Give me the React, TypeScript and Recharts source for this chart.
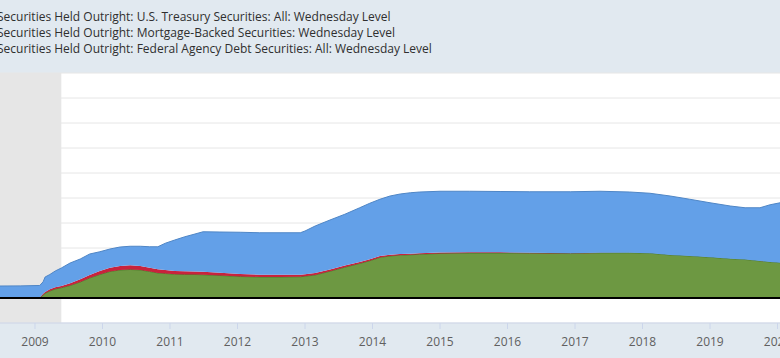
import React from "react";
import { AreaChart, Area, XAxis, YAxis, CartesianGrid, ReferenceArea, ReferenceLine } from "recharts";

// decimal year of each observation
const dates = [
  2008.48, 2008.78, 2009.07, 2009.12, 2009.15, 2009.22, 2009.3, 2009.39, 2009.52, 2009.67,
  2009.81, 2009.96, 2010.11, 2010.26, 2010.41, 2010.56, 2010.7, 2010.82, 2010.93, 2011.07,
  2011.22, 2011.37, 2011.49, 2011.74, 2012.04, 2012.33, 2012.63, 2012.93, 2013.0, 2013.15,
  2013.37, 2013.59, 2013.81, 2013.96, 2014.11, 2014.26, 2014.41, 2014.56, 2014.7, 2015.0,
  2015.44, 2015.89, 2016.33, 2016.93, 2017.37, 2017.81, 2018.11, 2018.41, 2018.7, 2019.0,
  2019.3, 2019.52, 2019.74, 2019.89, 2020.04,
];
// billions of dollars
const treasury = [
  480, 475, 476, 476, 600, 590, 650, 720, 810, 810,
  840, 770, 750, 760, 760, 790, 840, 900, 1070, 1240,
  1380, 1500, 1600, 1630, 1670, 1680, 1680, 1680, 1730, 1880,
  1980, 2050, 2170, 2240, 2270, 2350, 2400, 2440, 2450, 2450,
  2440, 2430, 2440, 2460, 2460, 2430, 2398, 2358, 2268, 2178,
  2108, 2068, 2128, 2288, 2398,
];
const mbs = [
  0, 0, 5, 120, 190, 280, 360, 410, 500, 640,
  800, 940, 1060, 1120, 1140, 1120, 1060, 1000, 980, 950,
  940, 940, 930, 900, 860, 840, 840, 850, 870, 920,
  1070, 1230, 1380, 1490, 1625, 1680, 1715, 1728, 1750, 1782,
  1797, 1800, 1790, 1778, 1804, 1807, 1790, 1720, 1680, 1630,
  1570, 1540, 1480, 1440, 1410,
];
const agency = [
  0, 10, 20, 50, 50, 70, 70, 70, 90, 110,
  120, 140, 150, 160, 170, 160, 150, 150, 140, 130,
  130, 120, 120, 110, 100, 90, 90, 80, 80, 80,
  70, 70, 60, 60, 55, 50, 45, 42, 40, 38,
  33, 30, 20, 12, 6, 3, 2, 2, 2, 2,
  2, 2, 2, 2, 2,
];

const yearTicks = [2009, 2010, 2011, 2012, 2013, 2014, 2015, 2016, 2017, 2018, 2019, 2020];
const valueTicks = [-1000, 0, 1000, 2000, 3000, 4000, 5000, 6000, 7000, 8000, 9000];
const legendLabels = [
  "Securities Held Outright: U.S. Treasury Securities: All: Wednesday Level",
  "Securities Held Outright: Mortgage-Backed Securities: Wednesday Level",
  "Securities Held Outright: Federal Agency Debt Securities: All: Wednesday Level",
];
const recessionEnd = 2009.39;
const xMin = 2008.4815;
const xMax = 2020.037;

const data = dates.map((t, i) => ({ t, treasury: treasury[i], mbs: mbs[i], agency: agency[i] }));

const FONT = "'Open Sans', 'Noto Sans', sans-serif";

const YearTick = (props: any) => {
  const { x, y, payload } = props;
  return (
    <text x={x} y={y + 15} textAnchor="middle" fill="#606060" fontSize={12} fontFamily={FONT}>
      {payload.value}
    </text>
  );
};

export default function App() {
  return (
    <div
      style={{
        position: "fixed",
        left: 0,
        top: 0,
        width: 780,
        height: 358,
        overflow: "hidden",
        background: "#e1e9f0",
        fontFamily: FONT,
      }}
    >
      {legendLabels.map((s, i) => (
        <div
          key={i}
          style={{
            position: "absolute",
            left: -3,
            top: 8.5 + i * 16.3,
            fontSize: 12,
            lineHeight: "16px",
            color: "#2f2f2f",
            whiteSpace: "nowrap",
          }}
        >
          {s}
        </div>
      ))}
      <div style={{ position: "absolute", left: 0, top: 0 }}>
        <AreaChart
          width={780}
          height={358}
          data={data}
          margin={{ top: 73, right: 0, bottom: 5, left: 0 }}
        >
          <CartesianGrid fill="#ffffff" stroke="#e6e6e6" vertical={false} />
          <XAxis
            dataKey="t"
            type="number"
            domain={[xMin, xMax]}
            allowDataOverflow
            ticks={yearTicks}
            interval={0}
            height={30}
            stroke="#ccd6eb"
            tickLine={{ stroke: "#ccd6eb" }}
            tickSize={6}
            tick={<YearTick />}
          />
          <YAxis hide domain={[-1000, 9000]} ticks={valueTicks} allowDataOverflow />
          <ReferenceArea x1={xMin} x2={recessionEnd} fill="#e6e6e6" fillOpacity={1} stroke="none" />
          <Area
            type="linear"
            dataKey="mbs"
            stackId="a"
            fill="#6d9842"
            fillOpacity={1}
            stroke="#4e7a2a"
            strokeWidth={1}
            isAnimationActive={false}
          />
          <Area
            type="linear"
            dataKey="agency"
            stackId="a"
            fill="#c8233c"
            fillOpacity={1}
            stroke="none"
            isAnimationActive={false}
          />
          <Area
            type="linear"
            dataKey="treasury"
            stackId="a"
            fill="#63a0e8"
            fillOpacity={1}
            stroke="#4f86c6"
            strokeWidth={1}
            isAnimationActive={false}
          />
          <ReferenceLine y={0} stroke="#000000" strokeWidth={2} />
        </AreaChart>
      </div>
    </div>
  );
}
